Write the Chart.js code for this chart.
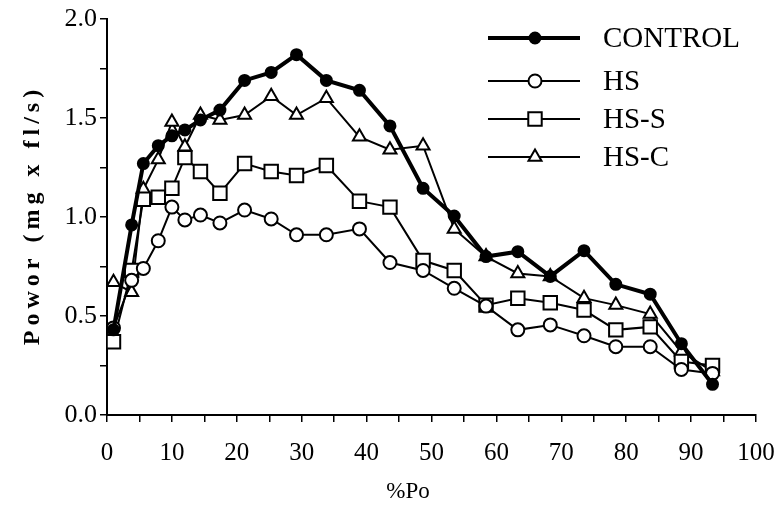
<!DOCTYPE html>
<html>
<head>
<meta charset="utf-8">
<title>Power vs %Po</title>
<script src="https://cdn.jsdelivr.net/npm/chart.js@4/dist/chart.umd.min.js"></script>
<style>
  html, body { margin: 0; padding: 0; background: #fff; }
  #power-chart { display: block; }
</style>
</head>
<body>
<canvas id="power-chart" width="781" height="508"></canvas>
<script>
// x positions (%Po) shared by all four series
const percentPo = [1, 3.8, 5.6, 7.9, 10, 12, 14.4, 17.4, 21.2, 25.3, 29.2, 33.8, 38.9, 43.6, 48.7, 53.5, 58.4, 63.3, 68.3, 73.5, 78.4, 83.7, 88.5, 93.3];
const controlPower = [0.43, 0.96, 1.27, 1.36, 1.41, 1.44, 1.49, 1.54, 1.69, 1.73, 1.82, 1.69, 1.64, 1.46, 1.145, 1.005, 0.80, 0.825, 0.70, 0.83, 0.66, 0.61, 0.36, 0.155];
const hsPower = [0.44, 0.68, 0.74, 0.88, 1.05, 0.985, 1.01, 0.97, 1.035, 0.99, 0.91, 0.91, 0.94, 0.77, 0.73, 0.64, 0.55, 0.43, 0.455, 0.40, 0.345, 0.345, 0.23, 0.21];
const hsSPower = [0.37, 0.73, 1.09, 1.10, 1.145, 1.30, 1.23, 1.12, 1.27, 1.23, 1.21, 1.26, 1.08, 1.05, 0.78, 0.73, 0.555, 0.59, 0.567, 0.53, 0.43, 0.445, 0.27, 0.25];
const hsCPower = [0.67, 0.62, 1.14, 1.29, 1.48, 1.355, 1.515, 1.49, 1.515, 1.61, 1.515, 1.60, 1.405, 1.34, 1.36, 0.94, 0.80, 0.715, 0.70, 0.59, 0.555, 0.51, 0.32, 0.22];
const seriesLabels = ['CONTROL', 'HS', 'HS-S', 'HS-C'];
const xTitle = '%Po';
const yTitle = 'Powor (mg x fl/s)';

const serif = "'Liberation Serif', 'DejaVu Serif', serif";

const toPoints = (values) => values.map((v, i) => ({ x: percentPo[i], y: v }));

// legend drawn as line + marker like the original figure, plus axis titles
const figureText = {
  id: 'figureText',
  afterDraw(chart) {
    const ctx = chart.ctx;
    const rows = [38, 81, 119, 157];
    ctx.save();
    chart.data.datasets.forEach((ds, i) => {
      const y = rows[i];
      ctx.strokeStyle = ds.borderColor;
      ctx.lineWidth = ds.borderWidth;
      ctx.beginPath();
      ctx.moveTo(488, y);
      ctx.lineTo(580, y);
      ctx.stroke();
      ctx.fillStyle = ds.pointBackgroundColor;
      ctx.strokeStyle = ds.pointBorderColor;
      ctx.lineWidth = ds.pointBorderWidth;
      Chart.helpers.drawPoint(ctx, {
        pointStyle: ds.pointStyle,
        radius: ds.pointRadius,
        borderWidth: ds.pointBorderWidth,
        rotation: 0
      }, 535, y);
      ctx.fillStyle = '#000';
      ctx.font = '29px ' + serif;
      ctx.textBaseline = 'middle';
      ctx.textAlign = 'left';
      ctx.fillText(ds.label, 603, y + 1);
    });

    // y title, rotated and letter-spaced
    ctx.fillStyle = '#000';
    ctx.font = 'bold 24px ' + serif;
    ctx.letterSpacing = '5px';
    ctx.textAlign = 'center';
    ctx.textBaseline = 'middle';
    ctx.translate(33, 215);
    ctx.rotate(-Math.PI / 2);
    ctx.fillText(yTitle, 0, 0);
    ctx.restore();

    // x title
    ctx.save();
    ctx.fillStyle = '#000';
    ctx.font = '23px ' + serif;
    ctx.textAlign = 'center';
    ctx.textBaseline = 'middle';
    ctx.fillText(xTitle, 408, 492);
    ctx.restore();
  }
};

const makeDataset = (label, values, style) => Object.assign({
  label: label,
  data: toPoints(values),
  borderColor: '#000',
  pointBorderColor: '#000',
  pointBackgroundColor: '#fff',
  pointBorderWidth: 2,
  borderWidth: 2,
  tension: 0
}, style);

new Chart(document.getElementById('power-chart'), {
  type: 'line',
  data: {
    datasets: [
      makeDataset(seriesLabels[0], controlPower, { borderWidth: 4, pointStyle: 'circle', pointRadius: 5.5, pointBackgroundColor: '#000' }),
      makeDataset(seriesLabels[1], hsPower, { pointStyle: 'circle', pointRadius: 6.5 }),
      makeDataset(seriesLabels[2], hsSPower, { pointStyle: 'rect', pointRadius: 9.5 }),
      makeDataset(seriesLabels[3], hsCPower, { pointStyle: 'triangle', pointRadius: 7.5 })
    ]
  },
  options: {
    responsive: false,
    animation: false,
    layout: { padding: { left: 0, top: 19, right: 25, bottom: 0 } },
    plugins: {
      legend: { display: false },
      tooltip: { enabled: false }
    },
    scales: {
      x: {
        type: 'linear',
        min: 0,
        max: 100,
        afterFit: (scale) => {
          scale.height = 93;
          scale.paddingLeft = 0;
          scale.paddingRight = 0;
        },
        border: { display: true, color: '#000', width: 2 },
        grid: { display: true, drawOnChartArea: false, drawTicks: true, tickLength: 7, color: '#000', lineWidth: 1.5 },
        ticks: {
          stepSize: 5,
          color: '#000',
          padding: 16,
          maxRotation: 0,
          autoSkip: false,
          font: { family: serif, size: 25 },
          callback: (v) => (v % 10 === 0 ? String(v) : '')
        }
      },
      y: {
        min: 0,
        max: 2,
        afterFit: (scale) => {
          scale.width = 107;
          scale.paddingTop = 0;
          scale.paddingBottom = 0;
        },
        border: { display: true, color: '#000', width: 2 },
        grid: { display: true, drawOnChartArea: false, drawTicks: true, tickLength: 7, color: '#000', lineWidth: 1.5 },
        ticks: {
          stepSize: 0.25,
          color: '#000',
          padding: 3,
          autoSkip: false,
          font: { family: serif, size: 26 },
          callback: (v) => (Math.round(v * 100) % 50 === 0 ? v.toFixed(1) : '')
        }
      }
    }
  },
  plugins: [figureText]
});
</script>
</body>
</html>
